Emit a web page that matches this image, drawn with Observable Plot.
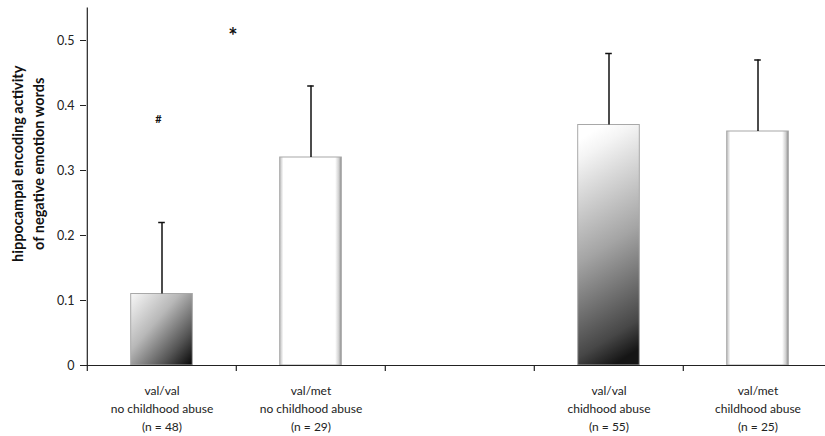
<!DOCTYPE html>
<html>
<head>
<meta charset="utf-8">
<script src="https://cdn.jsdelivr.net/npm/d3@7"></script>
<script src="https://cdn.jsdelivr.net/npm/@observablehq/plot@0.6"></script>
<style>
  html, body { margin: 0; padding: 0; background: #fff; }
  #chart svg { display: block; overflow: visible; }
</style>
</head>
<body>
<div id="chart"></div>
<script>
// ---- data ----
const categories = ["vv_no", "vm_no", "gap", "vv_abuse", "vm_abuse"];
const genotype   = ["val/val", "val/met", "", "val/val", "val/met"];
const groupLabel = ["no childhood abuse", "no childhood abuse", "", "chidhood abuse", "childhood abuse"];
const nLabel     = ["(n = 48)", "(n = 29)", "", "(n = 55)", "(n = 25)"];
const means      = [0.11, 0.32, null, 0.37, 0.36];
const upperErr   = [0.22, 0.43, null, 0.48, 0.47];
const yTicks     = [0, 0.1, 0.2, 0.3, 0.4, 0.5];
const yLabel     = "hippocampal encoding activity\nof negative emotion words";
const annotations = [
  {cat: "vv_no", y: 0.378, text: "#"},
  {cat: "vv_no", y: 0.505, text: "*"}
];

// ---- build table ----
const bars = categories.map((c, i) => ({cat: c, value: means[i], upper: upperErr[i]}))
  .filter(d => d.value != null);

const fillFor = {vv_no: "url(#gDiag)", vm_no: "url(#gWhite)", vv_abuse: "url(#gVert)", vm_abuse: "url(#gWhite)"};

const xRange = [86, 833];
const band = (xRange[1] - xRange[0]) / categories.length;
const barInset = (band - 62) / 2;
const capInset = (band - 7) / 2;

function defs() {
  const d = d3.create("svg:defs");
  const mk = (id, x1, y1, x2, y2, stops) => {
    const g = d.append("linearGradient").attr("id", id)
      .attr("x1", x1).attr("y1", y1).attr("x2", x2).attr("y2", y2);
    for (const [o, c] of stops) g.append("stop").attr("offset", o).attr("stop-color", c);
  };
  mk("gDiag", 0, 0, 1, 1, [[0, "#f8f8f8"], [0.4, "#b8b8b8"], [0.75, "#555"], [1, "#050505"]]);
  mk("gVert", 0.42, 0, 0.58, 1, [[0, "#ffffff"], [0.08, "#f4f4f4"], [0.5, "#a4a4a4"], [0.88, "#474747"], [1, "#151515"]]);
  mk("gWhite", 0, 0, 1, 0, [[0, "#bdbdbd"], [0.06, "#ffffff"], [0.9, "#ffffff"], [0.96, "#cfcfcf"], [1, "#8a8a8a"]]);
  return d.node();
}

const chart = Plot.plot({
  width: 825,
  height: 436,
  marginLeft: 86,
  marginRight: 0,
  marginTop: 7.5,
  marginBottom: 71,
  style: {fontFamily: "Lato, 'Open Sans', sans-serif", color: "#222", background: "#fff"},
  x: {type: "band", domain: categories, range: xRange, padding: 0},
  y: {domain: [0, 0.55], range: [365, 7.5]},
  marks: [
    defs,
    // bars
    Plot.barY(bars, {x: "cat", y: "value", fill: d => fillFor[d.cat],
      insetLeft: barInset, insetRight: barInset, stroke: "#a8a8a8", strokeWidth: 1}),
    // error bars
    Plot.ruleX(bars, {x: "cat", y1: "value", y2: "upper", stroke: "#111", strokeWidth: 1.5}),
    Plot.tickY(bars, {x: "cat", y: "upper", stroke: "#111", strokeWidth: 1.5,
      insetLeft: capInset, insetRight: capInset}),
    // axes lines
    Plot.ruleY([0], {stroke: "#222", strokeWidth: 1.2}),
    Plot.ruleX([categories[0]], {y1: 0, y2: 0.55, dx: -band / 2, stroke: "#222", strokeWidth: 1.2}),
    // x boundary ticks
    Plot.ruleX(categories, {y1: 0, y2: 0, insetBottom: -6, dx: -band / 2, stroke: "#222", strokeWidth: 1.2}),
    // y axis
    Plot.axisY({ticks: yTicks, tickFormat: d => d === 0 ? "0" : d3.format(".1f")(d),
      tickSize: 6, tickPadding: 6, fontSize: 12.5, label: null, stroke: "#222"}),
    // x axis labels
    Plot.axisX({tickSize: 0, tickPadding: 17, fontSize: 12, lineHeight: 1.5, label: null,
      tickFormat: c => { const i = categories.indexOf(c); return genotype[i] ? `${genotype[i]}\n${groupLabel[i]}\n${nLabel[i]}` : ""; }}),
    // y label
    Plot.text([yLabel], {frameAnchor: "left", text: d => d, rotate: -90, dx: -60, dy: -23,
      textAnchor: "middle", lineAnchor: "middle", lineHeight: 1.45, fontSize: 14.5, fontWeight: "bold", fill: "#111"}),
    // annotations
    Plot.text(annotations.filter(a => a.text === "#"), {x: "cat", y: "y", text: "text", dx: -3.5, fontSize: 11, fontWeight: "bold", fill: "#111"}),
    Plot.text(annotations.filter(a => a.text === "*"), {x: "cat", y: "y", text: "text", dx: 71, fontSize: 22, fontWeight: "bold", fill: "#111"})
  ]
});
document.getElementById("chart").appendChild(chart);
</script>
</body>
</html>
